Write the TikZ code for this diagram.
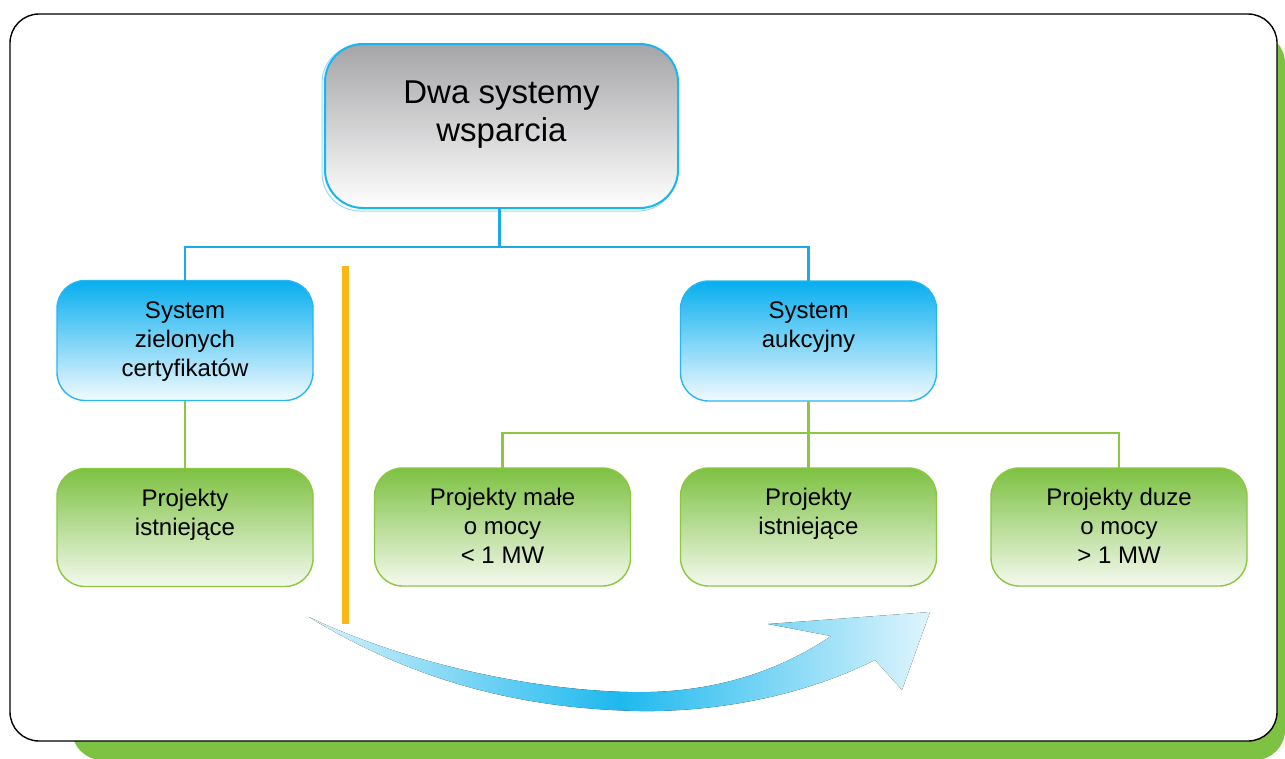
\documentclass[tikz,border=0pt]{standalone}
\usepackage{fontspec}
\setmainfont{Liberation Sans}
\usetikzlibrary{calc}
\definecolor{shadowgreen}{HTML}{7DC242}
\definecolor{barorange}{HTML}{FDB714}
\definecolor{lineblue}{HTML}{1AABE4}
\definecolor{linegreen}{HTML}{8DC63F}
\definecolor{topgray}{HTML}{A5A5A8}
\definecolor{topborder}{HTML}{1AB4EE}
\definecolor{bluetop}{HTML}{06AEEF}
\definecolor{bluebot}{HTML}{F2FAFE}
\definecolor{blueborder}{HTML}{2AB6EF}
\definecolor{greentop}{HTML}{7DC142}
\definecolor{greenbot}{HTML}{F4F9EE}
\definecolor{greenborder}{HTML}{8DC63F}
\definecolor{arrowmid}{HTML}{1DB9EE}
\definecolor{arrowend}{HTML}{D8F2FC}
\begin{document}
\begin{tikzpicture}[x=1pt,y=-1pt,
  boxbase/.style={inner sep=0pt, outer sep=0pt, line width=1.4pt},
  topbox/.style={boxbase, draw=topborder, line width=2pt, top color=topgray, bottom color=white,
    rounded corners=38pt, minimum width=353pt, minimum height=164pt},
  bluebox/.style={boxbase, draw=blueborder, top color=bluetop, bottom color=bluebot,
    rounded corners=28pt, minimum width=256pt, minimum height=120pt},
  greenbox/.style={boxbase, draw=greenborder, top color=greentop, bottom color=greenbot,
    rounded corners=28pt, minimum width=256pt, minimum height=118pt},
  txt/.style={inner sep=0pt, align=center, anchor=north, font=\fontsize{24}{29}\selectfont},
  bigtxt/.style={inner sep=0pt, align=center, anchor=north, font=\fontsize{33}{38}\selectfont},
  bluecon/.style={draw=lineblue, line width=2.4pt},
  greencon/.style={draw=linegreen, line width=2.4pt}
]
\useasboundingbox (0,0) rectangle (1285,758);
% frame with green shadow
\fill[shadowgreen, rounded corners=30pt] (72,33) rectangle (1285,760);
\draw[black, line width=1.4pt, fill=white, rounded corners=29pt] (10,14) rectangle (1277,741);

% top box (with faint outer glow line)
\draw[topborder!45, line width=1pt, rounded corners=38pt] (322,45) rectangle (676,211);
\node[topbox] (top) at (501.5,126) {};
\node[bigtxt] (toptxt) at ($(top.north)+(0,37)$) {Dwa systemy\\wsparcia};

% second level
\node[bluebox] (zc) at (185,340.5) {};
\node[txt] (zctxt) at ($(zc.north)+(0,21)$) {System\\zielonych\\certyfikatów};
\node[bluebox] (sa) at (808.5,341) {};
\node[txt] (satxt) at ($(sa.north)+(0,21)$) {System\\aukcyjny};

% third level
\node[greenbox] (pl) at (185,527.5) {};
\node[txt] (pltxt) at ($(pl.north)+(0,20)$) {Projekty\\istniejące};
\node[greenbox] (p2) at (502.5,527) {};
\node[txt] (p2txt) at ($(p2.north)+(0,20)$) {Projekty małe\\o mocy\\< 1 MW};
\node[greenbox] (p3) at (808.5,527) {};
\node[txt] (p3txt) at ($(p3.north)+(0,20)$) {Projekty\\istniejące};
\node[greenbox] (p4) at (1119,527) {};
\node[txt] (p4txt) at ($(p4.north)+(0,20)$) {Projekty duze\\o mocy\\> 1 MW};

% connectors
\coordinate (bj) at ($(top.south)+(-2,39)$);
\draw[bluecon] (top.south -| bj) -- (bj);
\draw[bluecon] (bj) -| (zc.north);
\draw[bluecon] (bj) -| (sa.north);
\draw[greencon] (zc.south) -- (pl.north);
\coordinate (gj) at ($(sa.south)+(0,32)$);
\draw[greencon] (sa.south) -- (gj);
\draw[greencon] (gj) -| (p2.north);
\draw[greencon] (gj) -- (p3.north);
\draw[greencon] (gj) -| (p4.north);

% orange divider
\fill[barorange] (342,266) rectangle (349,624);

% curved swoosh arrow
\fill[left color=arrowend, right color=arrowend!80, middle color=arrowmid]
  (309,617) .. controls (420,670) and (560,694) .. (650,692)
  .. controls (730,690) and (790,664) .. (831,636)
  -- (768,624) -- (930,612) -- (902,690) -- (875,660)
  .. controls (805,695) and (720,712) .. (640,711)
  .. controls (530,709) and (420,685) .. (309,617) -- cycle;
\end{tikzpicture}
\end{document}
